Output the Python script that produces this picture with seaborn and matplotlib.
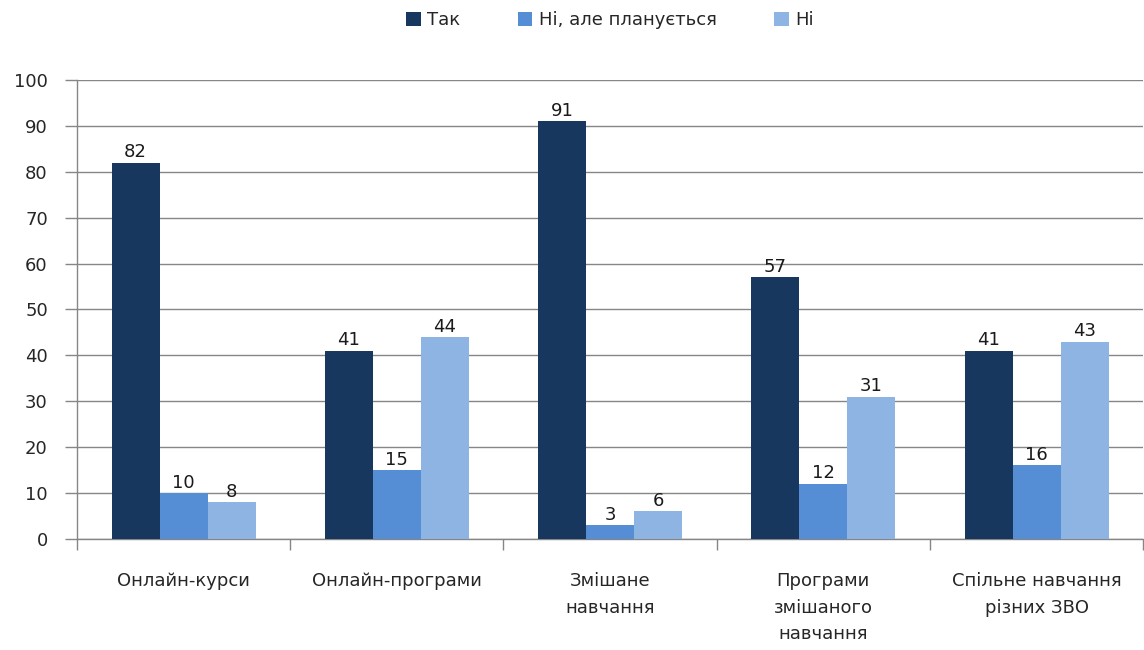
import numpy as np
import pandas as pd
import matplotlib
matplotlib.use("Agg")
import matplotlib.pyplot as plt
import seaborn as sns

categories = ["Онлайн-курси", "Онлайн-програми", "Змішане\nнавчання",
              "Програми\nзмішаного\nнавчання", "Спільне навчання\nрізних ЗВО"]
series = ["Так", "Ні, але планується", "Ні"]
yes_vals = [82, 41, 91, 57, 41]
planned_vals = [10, 15, 3, 12, 16]
no_vals = [8, 44, 6, 31, 43]
y_ticks = [0, 10, 20, 30, 40, 50, 60, 70, 80, 90, 100]

palette = {"Так": "#17375E", "Ні, але планується": "#558ED5", "Ні": "#8EB4E3"}

df = pd.DataFrame({
    "category": categories * 3,
    "series": [series[0]] * 5 + [series[1]] * 5 + [series[2]] * 5,
    "value": yes_vals + planned_vals + no_vals,
})

sns.set_style("white")
plt.rcParams['font.family'] = ['DejaVu Sans']

fig = plt.figure(figsize=(11.44, 6.5), dpi=100)
ax = fig.add_axes([0.0673, 0.171, 0.932, 0.706])

sns.barplot(data=df, x="category", y="value", hue="series", order=categories,
            hue_order=series, palette=palette, width=0.675, gap=0,
            saturation=1, linewidth=0, ax=ax, legend=True, zorder=3)

for cont in ax.containers:
    ax.bar_label(cont, fontsize=13, padding=1, color="#1a1a1a")

ax.set_ylim(0, 100)
ax.set_xlim(-0.5, len(categories) - 0.5)
ax.set_yticks(y_ticks)
ax.set_xticks(range(len(categories)))
ax.set_xticklabels(categories, fontsize=13, linespacing=1.6, va="top")
ax.set_xticks(np.arange(-0.5, len(categories)), minor=True)
ax.tick_params(axis="x", which="major", length=0, pad=24, bottom=True)
ax.tick_params(axis="x", which="minor", length=8, width=1, color="#868686",
               direction="out", bottom=True)
ax.tick_params(axis="y", length=9, width=1, color="#868686", direction="out",
               labelsize=13, pad=12, left=True)
ax.yaxis.grid(True, color="#868686", linewidth=1, zorder=0)
ax.set_axisbelow(True)
ax.set_xlabel("")
ax.set_ylabel("")
for s in ["top", "right"]:
    ax.spines[s].set_visible(False)
for s in ["left", "bottom"]:
    ax.spines[s].set_color("#868686")
    ax.spines[s].set_linewidth(1)

ax.legend(loc="upper center", bbox_to_anchor=(0.5, 1.185), ncol=3, frameon=False,
          fontsize=13, handlelength=0.8, handleheight=0.8, handletextpad=0.35,
          columnspacing=3.2)

fig.savefig("out.png", dpi=100)
